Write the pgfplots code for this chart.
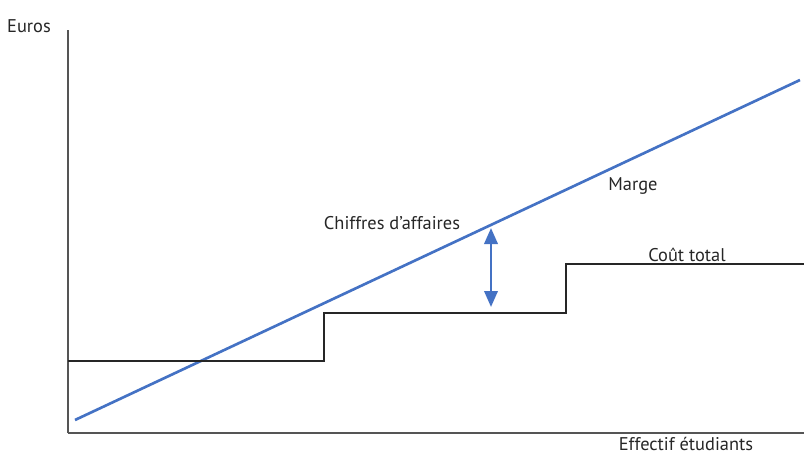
\documentclass[border=0pt]{standalone}
\usepackage{pgfplots}
\pgfplotsset{compat=1.18}
\usepackage{fontspec}
\setmainfont{PT Sans}
\usetikzlibrary{arrows.meta}
\definecolor{caBlue}{HTML}{4472C4}
\definecolor{axGray}{HTML}{555555}
\begin{document}
\begin{tikzpicture}
\begin{axis}[
    name=a,
    scale only axis,
    width=552pt, height=302.25pt,
    xmin=68, xmax=804, ymin=0, ymax=403,
    axis lines=left,
    axis line style={draw=axGray, line width=1.1pt, -},
    xtick=\empty, ytick=\empty,
    clip=false,
    font=\fontsize{13.8}{16}\selectfont,
]
% chiffre d'affaires
\addplot[caBlue, line width=2pt] coordinates {(75,13) (800,353)};
% cout total (en escalier)
\addplot[black!85, line width=0.8pt] coordinates {
    (68,72) (324,72) (324,120) (566,120) (566,169) (804,169)
};
% marge
\draw[caBlue, line width=2pt, {Triangle[width=10pt,length=12pt]}-{Triangle[width=10pt,length=12pt]}]
    (axis cs:491,126) -- (axis cs:491,205);
\begin{scope}[every node/.style={text=black!85, anchor=base, inner sep=0pt}]
\node at (axis cs:29,401) {Euros};
\node at (axis cs:686,-17) {Effectif étudiants};
\node at (axis cs:392,204) {Chiffres d’affaires};
\node at (axis cs:633,243) {Marge};
\node at (axis cs:687,172) {Coût total};
\end{scope}
\end{axis}
\pgfresetboundingbox
\path ([xshift=-51pt, yshift=-16.5pt]a.south west) rectangle ++(603pt,341.25pt);
\end{tikzpicture}
\end{document}
